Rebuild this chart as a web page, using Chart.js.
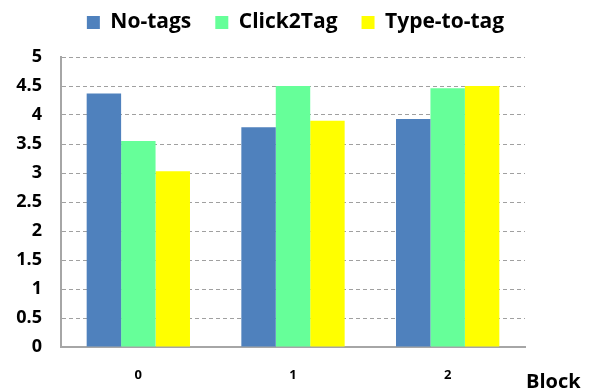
<!DOCTYPE html>
<html>
<head>
<meta charset="utf-8">
<script src="https://cdn.jsdelivr.net/npm/chart.js@4"></script>
<style>
  html, body { margin: 0; padding: 0; background: #fff; }
  #wrap { width: 591px; height: 391px; }
</style>
</head>
<body>
<div id="wrap"><canvas id="myChart" width="591" height="391"></canvas></div>
<script>
var blocks = ['0', '1', '2'];
var noTags = [4.37, 3.79, 3.93];
var click2Tag = [3.55, 4.50, 4.46];
var typeToTag = [3.03, 3.90, 4.50];
var yTickLabels = ['0', '0.5', '1', '1.5', '2', '2.5', '3', '3.5', '4', '4.5', '5'];

var fontFam = "'Open Sans', sans-serif";

// "Block" sits to the right of the x axis, outside the plot
var blockLabel = {
  id: 'blockLabel',
  afterDraw: function(chart) {
    var c = chart.ctx;
    c.save();
    c.font = 'bold 20px ' + fontFam;
    c.fillStyle = '#000';
    c.textAlign = 'left';
    c.textBaseline = 'middle';
    c.fillText('Block', chart.chartArea.right + 1, 382);
    c.restore();
  }
};

// legend starts above the canvas edge (negative padding), so pad it to reach the plot top
var legendSpace = {
  id: 'legendSpace',
  beforeInit: function(chart) {
    var fit = chart.legend.fit;
    chart.legend.fit = function() {
      fit.call(this);
      this.height = 69;
    };
  }
};

var ctx = document.getElementById('myChart').getContext('2d');
var myChart = new Chart(ctx, {
  type: 'bar',
  data: {
    labels: blocks,
    datasets: [{
      label: 'No-tags',
      data: noTags,
      backgroundColor: '#4F81BD'
    }, {
      label: 'Click2Tag',
      data: click2Tag,
      backgroundColor: '#66FF99'
    }, {
      label: 'Type-to-tag',
      data: typeToTag,
      backgroundColor: '#FFFF00'
    }]
  },
  options: {
    responsive: false,
    animation: false,
    layout: { padding: { left: 0, right: 0, top: -12, bottom: 0 } },
    datasets: {
      bar: { categoryPercentage: 0.668, barPercentage: 1.0 }
    },
    plugins: {
      tooltip: { enabled: false },
      legend: {
        position: 'top',
        labels: {
          boxWidth: 13,
          boxHeight: 13,
          padding: 24,
          color: '#000',
          font: { family: fontFam, size: 21, weight: 'bold' }
        }
      }
    },
    scales: {
      x: {
        grid: { display: false, drawTicks: false },
        border: { display: true, color: '#A6A6A6', width: 2 },
        ticks: {
          padding: 20,
          color: '#000',
          font: { family: fontFam, size: 13, weight: 'bold' }
        },
        afterFit: function(scale) { scale.height = 44; }
      },
      y: {
        min: 0,
        max: 5,
        ticks: {
          stepSize: 0.5,
          padding: 19,
          color: '#000',
          font: { family: fontFam, size: 18, weight: 'bold' },
          callback: function(value, index) { return yTickLabels[index]; }
        },
        grid: { color: '#A0A0A0', drawTicks: false, lineWidth: 1 },
        border: { display: true, color: '#A6A6A6', width: 2, dash: [4, 3] },
        afterFit: function(scale) { scale.width = 61; }
      },
      // empty right-hand strip that leaves room for the "Block" label
      yRight: {
        position: 'right',
        min: 0,
        max: 5,
        grid: { display: false, drawTicks: false },
        border: { display: false },
        ticks: { display: false },
        afterFit: function(scale) { scale.width = 66; }
      }
    }
  },
  plugins: [blockLabel, legendSpace]
});
</script>
</body>
</html>
